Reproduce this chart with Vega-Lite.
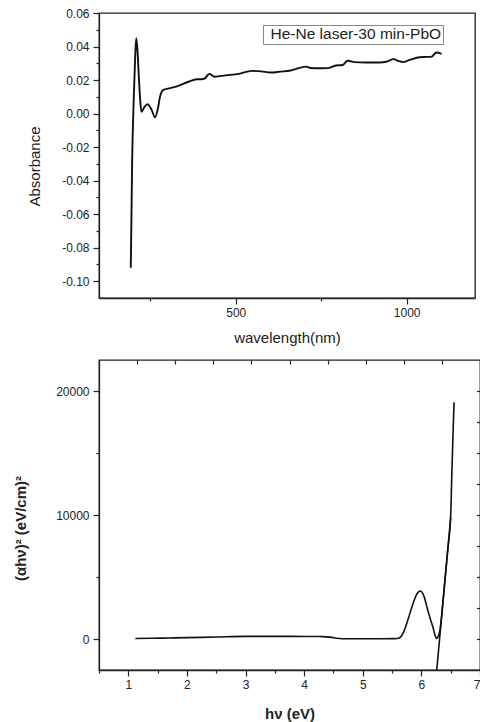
{
  "$schema": "https://vega.github.io/schema/vega-lite/v6.json",
  "padding": {"left": 12, "top": 6, "right": 0, "bottom": 0},
  "background": "white",
  "bounds": "flush",
  "spacing": 62,
  "config": {
    "font": "Liberation Sans",
    "view": {"stroke": "#222", "strokeWidth": 1.3},
    "axis": {
      "grid": false,
      "labelFont": "Liberation Sans",
      "labelFontSize": 12,
      "labelColor": "#222",
      "titleFont": "Liberation Sans",
      "titleColor": "#222",
      "titleFontWeight": "normal",
      "tickColor": "#222",
      "tickWidth": 1.2,
      "domainColor": "#222",
      "domainWidth": 1.3
    }
  },
  "vconcat": [
    {
      "width": 376,
      "height": 285,
      "data": {
        "values": [
          {"w": 193, "a": -0.092},
          {"w": 197, "a": -0.028},
          {"w": 201.5, "a": 0.008},
          {"w": 206, "a": 0.035},
          {"w": 209, "a": 0.045},
          {"w": 212.5, "a": 0.038},
          {"w": 216.5, "a": 0.022},
          {"w": 220.5, "a": 0.008},
          {"w": 224, "a": 0.001},
          {"w": 233, "a": 0.004},
          {"w": 242, "a": 0.0056},
          {"w": 254, "a": 0.0022},
          {"w": 264, "a": -0.0022},
          {"w": 271.5, "a": 0.0022},
          {"w": 278.5, "a": 0.010},
          {"w": 288, "a": 0.0141},
          {"w": 308, "a": 0.0152},
          {"w": 332, "a": 0.0165},
          {"w": 362, "a": 0.019},
          {"w": 386, "a": 0.0205},
          {"w": 400, "a": 0.0205},
          {"w": 410, "a": 0.021},
          {"w": 418, "a": 0.023},
          {"w": 424, "a": 0.0237},
          {"w": 432, "a": 0.0225},
          {"w": 440, "a": 0.022},
          {"w": 470, "a": 0.0228},
          {"w": 509, "a": 0.0237},
          {"w": 547, "a": 0.0255},
          {"w": 575, "a": 0.0252},
          {"w": 602, "a": 0.0245},
          {"w": 630, "a": 0.025},
          {"w": 661, "a": 0.0257},
          {"w": 675, "a": 0.0265},
          {"w": 705, "a": 0.028},
          {"w": 720, "a": 0.0272},
          {"w": 740, "a": 0.0270},
          {"w": 768, "a": 0.0271},
          {"w": 793, "a": 0.0287},
          {"w": 813, "a": 0.029},
          {"w": 827, "a": 0.0315},
          {"w": 847, "a": 0.0307},
          {"w": 880, "a": 0.0305},
          {"w": 921, "a": 0.0305},
          {"w": 940, "a": 0.0309},
          {"w": 962, "a": 0.0325},
          {"w": 975, "a": 0.0315},
          {"w": 989, "a": 0.0307},
          {"w": 1009, "a": 0.032},
          {"w": 1038, "a": 0.0336},
          {"w": 1060, "a": 0.0338},
          {"w": 1073, "a": 0.034},
          {"w": 1087, "a": 0.0364},
          {"w": 1102, "a": 0.0356}
        ]
      },
      "mark": {"type": "line", "strokeWidth": 1.9, "strokeJoin": "round", "interpolate": "monotone"},
      "encoding": {
        "x": {
          "field": "w",
          "type": "quantitative",
          "scale": {"domain": [100, 1200], "nice": false, "zero": false},
          "axis": {
            "values": [250, 500, 750, 1000],
            "format": "d",
            "labelExpr": "datum.value % 500 === 0 ? datum.label : ''",
            "tickSize": {"condition": {"test": "datum.value % 500 === 0", "value": 6}, "value": 3},
            "labelPadding": 3,
            "title": "wavelength(nm)",
            "titleFontSize": 15,
            "titleBaseline": "middle",
            "titleY": 39
          }
        },
        "y": {
          "field": "a",
          "type": "quantitative",
          "scale": {"domain": [-0.11, 0.06], "nice": false, "zero": false},
          "axis": {
            "values": [-0.1, -0.09, -0.08, -0.07, -0.06, -0.05, -0.04, -0.03, -0.02, -0.01, 0, 0.01, 0.02, 0.03, 0.04, 0.05, 0.06],
            "labelExpr": "abs(round(datum.value*100)) % 2 === 0 ? replace(format(datum.value, '.2f'), '−', '-') : ''",
            "tickSize": {"condition": {"test": "abs(round(datum.value*100)) % 2 === 0", "value": 6}, "value": 3},
            "labelPadding": 4,
            "title": "Absorbance",
            "titleFontSize": 15,
            "titleBaseline": "middle",
            "titleX": -65,
            "titleY": 153
          }
        },
        "color": {
          "datum": "He-Ne laser-30 min-PbO",
          "type": "nominal",
          "scale": {"range": ["#111"]},
          "legend": {
            "title": null,
            "orient": "none",
            "legendX": 164,
            "legendY": 12,
            "strokeColor": "#888",
            "padding": 1,
            "symbolSize": 0,
            "symbolStrokeWidth": 0,
            "labelOffset": -9,
            "labelFontSize": 15.5,
            "labelLimit": 400,
            "labelColor": "#222",
            "labelFont": "Liberation Sans"
          }
        }
      }
    },
    {
      "width": 381,
      "height": 310,
      "layer": [
        {
          "data": {
            "values": [
              {"s": "curve", "hv": 1.12, "v": 40},
              {"s": "curve", "hv": 1.4, "v": 55},
              {"s": "curve", "hv": 1.7, "v": 80},
              {"s": "curve", "hv": 2.0, "v": 110},
              {"s": "curve", "hv": 2.5, "v": 160},
              {"s": "curve", "hv": 3.0, "v": 210},
              {"s": "curve", "hv": 3.5, "v": 215},
              {"s": "curve", "hv": 4.0, "v": 205},
              {"s": "curve", "hv": 4.3, "v": 195},
              {"s": "curve", "hv": 4.45, "v": 150},
              {"s": "curve", "hv": 4.55, "v": 60},
              {"s": "curve", "hv": 4.65, "v": 25},
              {"s": "curve", "hv": 5.0, "v": 20},
              {"s": "curve", "hv": 5.3, "v": 25},
              {"s": "curve", "hv": 5.55, "v": 30},
              {"s": "curve", "hv": 5.62, "v": 90},
              {"s": "curve", "hv": 5.66, "v": 250},
              {"s": "curve", "hv": 5.7, "v": 600},
              {"s": "curve", "hv": 5.78, "v": 1700},
              {"s": "curve", "hv": 5.86, "v": 2900},
              {"s": "curve", "hv": 5.92, "v": 3600},
              {"s": "curve", "hv": 5.98, "v": 3870},
              {"s": "curve", "hv": 6.04, "v": 3500},
              {"s": "curve", "hv": 6.11, "v": 2300},
              {"s": "curve", "hv": 6.16, "v": 1500},
              {"s": "curve", "hv": 6.2, "v": 900},
              {"s": "curve", "hv": 6.23, "v": 350},
              {"s": "curve", "hv": 6.255, "v": 40},
              {"s": "curve", "hv": 6.29, "v": 250},
              {"s": "curve", "hv": 6.32, "v": 800},
              {"s": "curve", "hv": 6.34, "v": 1600},
              {"s": "curve", "hv": 6.37, "v": 3100},
              {"s": "curve", "hv": 6.4, "v": 4650},
              {"s": "curve", "hv": 6.45, "v": 7200},
              {"s": "curve", "hv": 6.5, "v": 10000},
              {"s": "curve", "hv": 6.52, "v": 13400},
              {"s": "curve", "hv": 6.54, "v": 16600},
              {"s": "curve", "hv": 6.557, "v": 19100},
              {"s": "tangent", "hv": 6.262, "v": -2500},
              {"s": "tangent", "hv": 6.5, "v": 9800}
            ]
          },
          "mark": {"type": "line", "color": "#111", "strokeWidth": 1.6, "strokeJoin": "round", "interpolate": "monotone"},
          "encoding": {
            "x": {
              "field": "hv",
              "type": "quantitative",
              "scale": {"domain": [0.5, 7], "nice": false, "zero": false},
              "axis": {
                "values": [0.5, 1, 1.5, 2, 2.5, 3, 3.5, 4, 4.5, 5, 5.5, 6, 6.5, 7],
                "labelExpr": "datum.value % 1 === 0 ? format(datum.value, 'd') : ''",
                "tickSize": {"condition": {"test": "datum.value % 1 === 0", "value": 6}, "value": 3},
                "labelPadding": 3,
                "title": "hν (eV)",
                "titleFontSize": 15,
                "titleFontWeight": "bold",
                "titleBaseline": "middle",
                "titleY": 43
              }
            },
            "y": {
              "field": "v",
              "type": "quantitative",
              "scale": {"domain": [-2500, 22500], "nice": false, "zero": false},
              "axis": {
                "values": [0, 5000, 10000, 15000, 20000],
                "labelExpr": "datum.value % 10000 === 0 ? format(datum.value, 'd') : ''",
                "tickSize": {"condition": {"test": "datum.value % 10000 === 0", "value": 6}, "value": 3},
                "labelPadding": 4,
                "title": "(αhν)² (eV/cm)²",
                "titleFontSize": 15,
                "titleFontWeight": "bold",
                "titleBaseline": "middle",
                "titleX": -79,
                "titleY": 168
              }
            },
            "detail": {"field": "s", "type": "nominal"}
          }
        },
        {
          "data": {"values": [{"t": 0, "r": 0}]},
          "mark": {"type": "point", "opacity": 0},
          "encoding": {
            "x": {
              "field": "t",
              "type": "quantitative",
              "scale": {"domain": [0, 10], "nice": false, "zero": false},
              "axis": {
                "orient": "top",
                "values": [1, 2, 3, 4, 5, 6, 7, 8, 9],
                "labels": false,
                "title": null,
                "domain": false,
                "tickSize": -4
              }
            },
            "y": {
              "field": "r",
              "type": "quantitative",
              "scale": {"domain": [-2500, 22500], "nice": false, "zero": false},
              "axis": {
                "orient": "right",
                "values": [0, 2500, 5000, 7500, 10000, 12500, 15000, 17500, 20000],
                "labels": false,
                "title": null,
                "domain": false,
                "tickSize": -3.5
              }
            }
          }
        }
      ],
      "resolve": {"scale": {"x": "independent", "y": "independent"}}
    }
  ]
}
